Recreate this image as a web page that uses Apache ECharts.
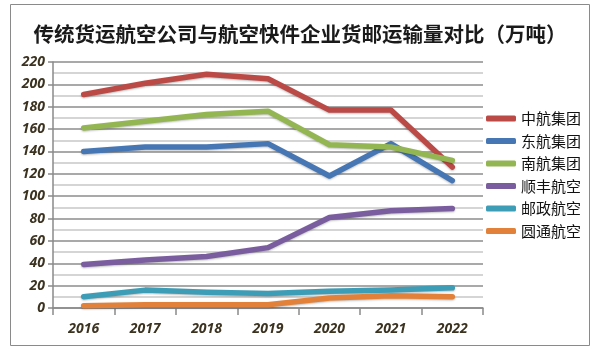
<!DOCTYPE html>
<html>
<head>
<meta charset="utf-8">
<script src="https://cdn.jsdelivr.net/npm/echarts@6/dist/echarts.min.js"></script>
<style>
  html, body { margin: 0; padding: 0; background: #fff; }
  #main { width: 600px; height: 351px; }
</style>
</head>
<body>
<div id="main"></div>
<script>
// 年份
var years = ['2016', '2017', '2018', '2019', '2020', '2021', '2022'];
var names = ['中航集团', '东航集团', '南航集团', '顺丰航空', '邮政航空', '圆通航空'];
var colors = ['#BB4A47', '#4677B4', '#93B552', '#7A5D9E', '#3E9DB6', '#E2823A'];

// 各公司货邮运输量（万吨）
var zhonghang = [191, 201, 209, 205, 177, 177, 126];
var donghang = [140, 144, 144, 147, 118, 147, 114];
var nanhang = [161, 167, 173, 176, 146, 144, 132];
var shunfeng = [39, 43, 46, 54, 81, 87, 89];
var youzheng = [10, 16, 14, 13, 15, 16, 18];
var yuantong = [2, 3, 3, 3, 9, 11, 10];

var allData = [zhonghang, donghang, nanhang, shunfeng, youzheng, yuantong];

var labelFont = {
  fontFamily: 'Open Sans',
  fontStyle: 'italic',
  fontWeight: 'bold',
  fontSize: 14,
  color: '#3b3220'
};

var series = [];
for (var i = 0; i < names.length; i++) {
  series.push({
    name: names[i],
    type: 'line',
    data: allData[i],
    symbol: 'none',
    smooth: false,
    lineStyle: {
      width: 5.5,
      color: colors[i],
      cap: 'round',
      join: 'round',
      shadowColor: 'rgba(0,0,0,0.25)',
      shadowBlur: 2,
      shadowOffsetY: 1
    },
    itemStyle: { color: colors[i] }
  });
}

var chart = echarts.init(document.getElementById('main'));
chart.setOption({
  animation: false,
  backgroundColor: '#fff',
  title: {
    text: '传统货运航空公司与航空快件企业货邮运输量对比（万吨）',
    left: 'center',
    top: 19,
    textStyle: {
      fontFamily: 'Noto Sans CJK SC',
      fontSize: 20.5,
      fontWeight: 'bold',
      color: '#1a1a1a'
    }
  },
  graphic: [{
    type: 'rect',
    shape: { x: 10.5, y: 4.5, width: 579, height: 341 },
    style: { fill: 'none', stroke: '#8a8a8a', lineWidth: 1 },
    silent: true
  }],
  legend: {
    orient: 'vertical',
    left: 481,
    top: 106,
    itemWidth: 30,
    itemHeight: 6,
    itemGap: 7.5,
    icon: 'roundRect',
    textStyle: {
      fontFamily: 'Noto Sans CJK SC',
      fontSize: 15,
      color: '#111'
    },
    data: names
  },
  grid: {
    left: 53,
    right: 117,
    top: 62,
    bottom: 43
  },
  xAxis: {
    type: 'category',
    data: years,
    boundaryGap: true,
    axisLine: { lineStyle: { color: '#8a8a8a', width: 1.5 } },
    axisTick: { show: true, length: 7, lineStyle: { color: '#8a8a8a', width: 1.5 } },
    axisLabel: Object.assign({ margin: 14 }, labelFont)
  },
  yAxis: {
    type: 'value',
    min: 0,
    max: 220,
    interval: 20,
    axisLine: { show: true, lineStyle: { color: '#8a8a8a', width: 1.5 } },
    axisTick: { show: true, length: 5, lineStyle: { color: '#8a8a8a', width: 1.5 } },
    axisLabel: Object.assign({ margin: 8 }, labelFont),
    splitLine: { lineStyle: { color: '#8c8c8c', width: 1.5 } },
    minorTick: { show: false, splitNumber: 2 },
    minorSplitLine: { show: true, lineStyle: { color: '#c8c8c8', width: 1.5 } }
  },
  series: series
});
</script>
</body>
</html>
